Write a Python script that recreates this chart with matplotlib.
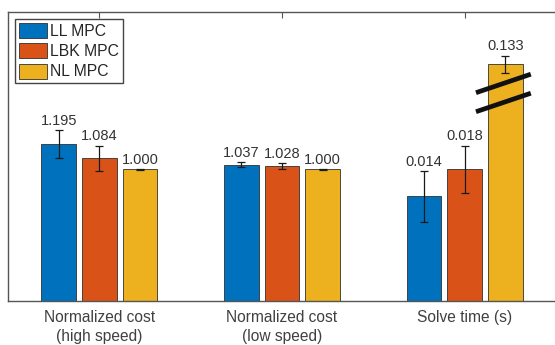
import matplotlib
matplotlib.use("Agg")
import matplotlib.pyplot as plt
import numpy as np

plt.rcParams['font.family'] = ['Liberation Sans', 'DejaVu Sans']

# ---- data ----
groups = ["Normalized cost\n(high speed)", "Normalized cost\n(low speed)", "Solve time (s)"]
methods = ["LL MPC", "LBK MPC", "NL MPC"]
colors = ["#0072BD", "#D95319", "#EDB120"]

cost_high = [1.195, 1.084, 1.000]
cost_high_err = [0.104, 0.097, 0.003]
cost_low = [1.037, 1.028, 1.000]
cost_low_err = [0.017, 0.021, 0.002]
solve_time = [0.0140, 0.0176, 0.133]          # seconds
solve_time_err = [0.0034, 0.0032, 0.0012]     # seconds

# solve times are plotted relative to the LBK MPC time
time_scale = 1.0 / solve_time[1]
# bars taller than this are cut with a break marker
break_height = 1.80

values = [cost_high, cost_low, solve_time]
errors = [cost_high_err, cost_low_err, solve_time_err]
scales = [1.0, 1.0, time_scale]

# ---- figure ----
W, H = 555, 345
fig = plt.figure(figsize=(W / 100, H / 100), dpi=100)
ax = fig.add_axes([8 / W, (H - 300.7) / H, (556 - 8) / W, (300.7 - 12) / H])

bar_w = 0.19
offsets = np.array([-0.222, 0.0, 0.222])
x = np.arange(1, len(groups) + 1)
text_col = "#333333"
axis_col = "#555555"

for gi in range(len(groups)):
    for mi in range(len(methods)):
        val = values[gi][mi]
        err = errors[gi][mi]
        s = scales[gi]
        h = val * s
        broken = h > break_height
        h_draw = break_height if broken else h
        xc = x[gi] + offsets[mi]
        ax.bar(xc, h_draw, width=bar_w, color=colors[mi], edgecolor="#303030",
               linewidth=0.6, zorder=2, label=methods[mi] if gi == 0 else None)
        ax.errorbar(xc, h_draw, yerr=err * s, color="#1a1a1a", lw=0.9,
                    capsize=2.6, capthick=0.9, zorder=3)
        ax.annotate(f"{val:.3f}", (xc, h_draw + err * s), xytext=(0, 6.8),
                    textcoords="offset points", ha="center", va="center",
                    fontsize=10.5, color=text_col, zorder=4)
        if broken:
            for dy in (0.0, -0.145):
                ax.plot([xc - 0.16, xc + 0.14],
                        [1.585 + dy, 1.726 + dy],
                        color="#111111", lw=3.4, solid_capstyle="butt",
                        zorder=5, clip_on=False)

ax.set_xlim(0.5, 3.5)
ax.set_ylim(0, 2.2)
ax.set_xticks(x)
ax.set_xticklabels(groups, fontsize=11.2, color="#404040", linespacing=1.3)
ax.set_yticks([])
ax.tick_params(axis="x", direction="in", top=True, length=4.3, width=0.8,
               color=axis_col, pad=7)
for sp in ax.spines.values():
    sp.set_color(axis_col)
    sp.set_linewidth(1.0)

leg = ax.legend(loc="upper left", fontsize=11.3, frameon=True, fancybox=False,
                edgecolor="#444444", framealpha=1, borderpad=0.25,
                borderaxespad=0.45, handlelength=1.8, handleheight=1.1,
                handletextpad=0.2, labelspacing=0.28)
leg.get_frame().set_linewidth(1.0)
for t in leg.get_texts():
    t.set_color("#262626")

fig.savefig("out.png", dpi=100)
